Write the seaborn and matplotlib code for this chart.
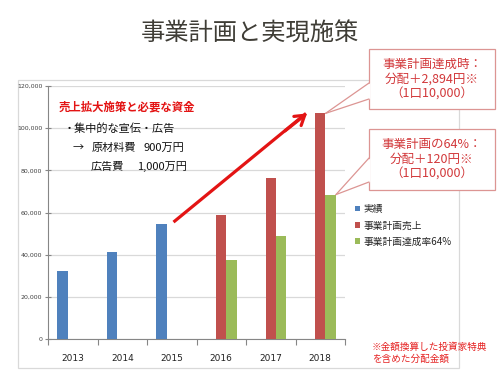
import numpy as np
import pandas as pd
import matplotlib
matplotlib.use("Agg")
import matplotlib.pyplot as plt
import seaborn as sns
from matplotlib.patches import Rectangle, Polygon, Patch
from matplotlib.lines import Line2D
from matplotlib.ticker import FuncFormatter, FixedLocator

# ---------------- data ----------------
years = ["2013", "2014", "2015", "2016", "2017", "2018"]
series_names = ["実績", "事業計画売上", "事業計画達成率64%"]
actual = [32400, 41400, 54500, np.nan, np.nan, np.nan]
plan = [np.nan, np.nan, np.nan, 58800, 76500, 107000]
plan64 = [np.nan, np.nan, np.nan, 37600, 49000, 68500]
colors = ["#4F81BD", "#C0504D", "#9BBB59"]

title = "事業計画と実現施策"
memo_head = "売上拡大施策と必要な資金"
memo_lines = ["・集中的な宣伝・広告"]
callout1 = ["事業計画達成時：", "分配＋2,894円※", "（1口10,000）"]
callout2 = ["事業計画の64%：", "分配＋120円※", "（1口10,000）"]
footnote = "※金額換算した投資家特典\nを含めた分配金額"

# ---------------- build table ----------------
rows = []
for name, vals in zip(series_names, [actual, plan, plan64]):
    for y, v in zip(years, vals):
        rows.append({"year": y, "series": name, "value": v})
df = pd.DataFrame(rows).dropna()

sns.set_theme(style="white")
plt.rcParams["font.family"] = ["Noto Sans CJK JP", "DejaVu Sans"]

W, H = 500, 375
fig = plt.figure(figsize=(5, 3.75), dpi=100)
fig.patch.set_facecolor("white")

def fx(x):
    return x / W

def fy(y):
    return 1 - y / H

# chart-area border
fig.add_artist(Rectangle((fx(18), fy(368)), fx(459) - fx(18), fy(80) - fy(368),
                         transform=fig.transFigure, fill=False,
                         edgecolor="#d9d9d9", lw=0.9, zorder=0))

ax = fig.add_axes([fx(48), fy(339), fx(345) - fx(48), fy(86) - fy(339)])
bar_width = 0.635
sns.barplot(data=df, x="year", y="value", hue="series", order=years,
            hue_order=series_names, palette=colors, width=bar_width, gap=0,
            saturation=1, errorbar=None, legend=False, ax=ax, zorder=3)
for p in ax.patches:
    p.set_edgecolor("none")

ax.set_ylim(0, 120000)
ax.set_xlim(-0.5, len(years) - 0.5)
ax.set_yticks(np.arange(0, 120001, 20000))
ax.yaxis.set_major_formatter(FuncFormatter(lambda v, _: f"{int(v):,}"))
ax.grid(axis="y", color="#d9d9d9", lw=0.9, zorder=0)
ax.set_axisbelow(True)
ax.set_xlabel("")
ax.set_ylabel("")
for s in ["top", "right"]:
    ax.spines[s].set_visible(False)
for s in ["left", "bottom"]:
    ax.spines[s].set_color("#868686")
    ax.spines[s].set_linewidth(0.8)
ax.tick_params(axis="y", labelsize=4.5, labelcolor="#404040", length=4,
               direction="inout", color="#868686", width=0.8, pad=2, left=True)
ax.tick_params(axis="x", labelsize=6.5, labelcolor="#222222", length=0,
               pad=11)
ax.xaxis.set_minor_locator(FixedLocator(np.arange(-0.5, len(years), 1.0)))
ax.tick_params(axis="x", which="minor", length=4, direction="out",
               color="#868686", width=0.8, bottom=True)
for lab in ax.get_xticklabels():
    lab.set_fontfamily(["DejaVu Sans"])
for lab in ax.get_yticklabels():
    lab.set_fontfamily(["DejaVu Sans"])

# positions of bars (data -> figure pixel)
n = len(series_names)
bw = bar_width / n

def bar_top_px(cat_i, ser_j, val, side):
    xc = cat_i + (ser_j - (n - 1) / 2) * bw
    xe = xc + side * bw / 2
    dx, dy = ax.transData.transform((xe, val))
    return dx, H - dy

# ---------------- title ----------------
fig.text(0.5, fy(34), title, ha="center", va="center", fontsize=17.5,
         color="#3f3d36")

# ---------------- memo ----------------
red = "#e31414"
fig.text(fx(59), fy(107), memo_head, ha="left", va="center", fontsize=8.2,
         color=red, fontweight="bold")
fig.text(fx(64), fy(128), memo_lines[0], ha="left", va="center", fontsize=8,
         color="#111111")
fig.text(fx(73), fy(148), "→", ha="left", va="center", fontsize=8,
         color="#111111")
fig.text(fx(92), fy(148), "原材料費", ha="left", va="center", fontsize=8,
         color="#111111")
fig.text(fx(143), fy(148), "900万円", ha="left", va="center", fontsize=8,
         color="#111111")
fig.text(fx(91), fy(167), "広告費", ha="left", va="center", fontsize=8,
         color="#111111")
fig.text(fx(137), fy(167), "1,000万円", ha="left", va="center", fontsize=8,
         color="#111111")

# ---------------- red arrow ----------------
sx, sy = bar_top_px(2, 0, actual[2], +1)
ex, ey = bar_top_px(5, 1, plan[5], -1)
fig.add_artist(Line2D([fx(sx + 7), fx(ex - 9)], [fy(sy - 2), fy(ey)],
                      transform=fig.transFigure, color=red, lw=2.3,
                      solid_capstyle="butt", zorder=5))
ax.annotate("", xy=(fx(ex - 8), fy(ey)), xycoords=fig.transFigure,
            xytext=(fx(ex - 30), fy(ey + 17.5)), textcoords=fig.transFigure,
            arrowprops=dict(arrowstyle="->,head_length=0.55,head_width=0.35",
                            color=red, lw=2.3, shrinkA=0, shrinkB=0),
            annotation_clip=False, zorder=6)

# ---------------- callouts ----------------
cl_edge = "#dc9593"
cl_text = "#d2383a"

def callout(box, base, tip, lines):
    x0, y0, x1, y1 = box
    fig.add_artist(Rectangle((fx(x0), fy(y1)), fx(x1) - fx(x0), fy(y0) - fy(y1),
                             transform=fig.transFigure, facecolor="white",
                             edgecolor=cl_edge, lw=0.9, zorder=7))
    (bx, by0), (bx2, by1) = base
    fig.add_artist(Polygon([(fx(bx + 1.5), fy(by0)), (fx(tip[0]), fy(tip[1])),
                            (fx(bx + 1.5), fy(by1))],
                           closed=True, transform=fig.transFigure,
                           facecolor="white", edgecolor="none", zorder=8))
    for by in (by0, by1):
        fig.add_artist(Line2D([fx(bx), fx(tip[0])], [fy(by), fy(tip[1])],
                              transform=fig.transFigure, color=cl_edge,
                              lw=0.9, zorder=9))
    cx = (x0 + x1) / 2
    cy = (y0 + y1) / 2
    fig.text(fx(cx), fy(cy), "\n".join(lines), ha="center", va="center",
             fontsize=9, color=cl_text, linespacing=1.2, zorder=10)

t1x, t1y = bar_top_px(5, 1, plan[5], +1)
callout((369, 49, 495, 109), ((369, 83), (369, 99)), (t1x, t1y), callout1)
t2x, t2y = bar_top_px(5, 2, plan64[5], +1)
callout((369, 129, 495, 190), ((369, 158), (369, 182)), (t2x, t2y), callout2)

# ---------------- legend ----------------
handles = [Patch(facecolor=c, edgecolor="none") for c in colors]
fig.legend(handles, series_names, loc="upper left",
           bbox_to_anchor=(fx(355), fy(204)), frameon=False, fontsize=7,
           handlelength=0.55, handleheight=0.55, handletextpad=0.3,
           labelspacing=0.65, borderaxespad=0, borderpad=0)

# ---------------- footnote ----------------
fig.text(fx(372), fy(353), footnote, ha="left", va="center", fontsize=6.9,
         color="#e52020", linespacing=1.25)

fig.savefig("out.png", dpi=100, facecolor="white")
